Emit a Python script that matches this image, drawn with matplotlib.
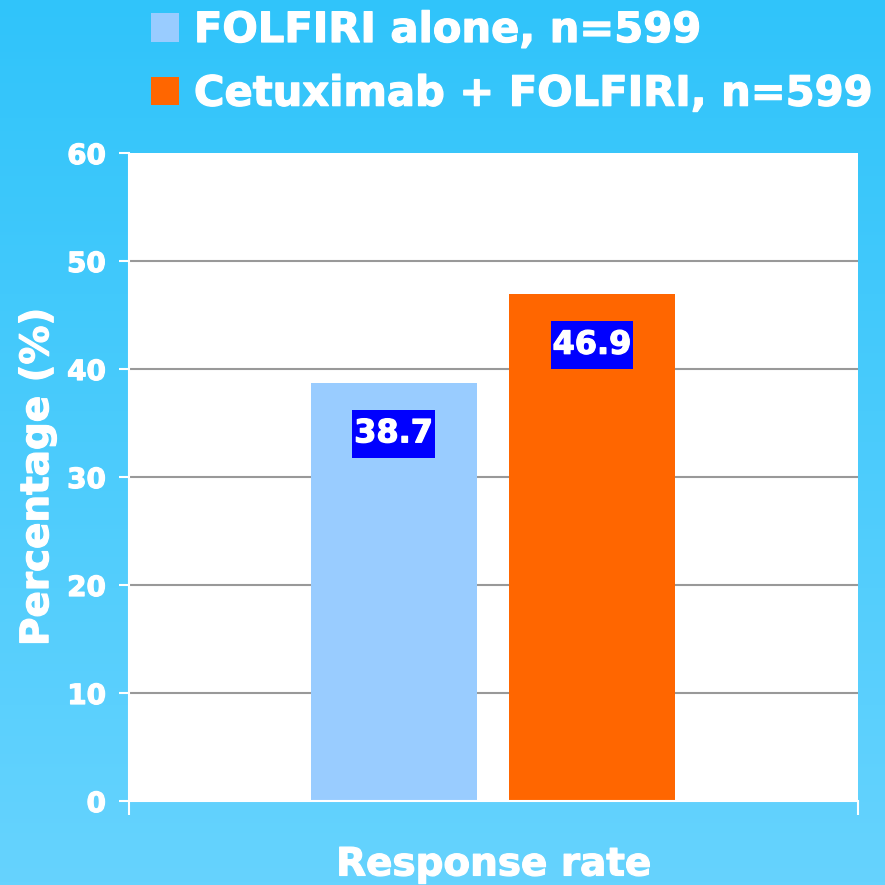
import numpy as np
import matplotlib
matplotlib.use("Agg")
import matplotlib.pyplot as plt
import matplotlib.patheffects as pe
from matplotlib.path import Path

categories = ["Response rate"]
series = ["FOLFIRI alone, n=599", "Cetuximab + FOLFIRI, n=599"]
values = [38.7, 46.9]
colors = ["#99CCFF", "#FF6600"]
yticks = [0, 10, 20, 30, 40, 50, 60]

plt.rcParams['font.family'] = ['DejaVu Sans']
plt.rcParams['font.weight'] = 'bold'

# fatten the white text a little, the original font is heavier
thick = [pe.withStroke(linewidth=0.9, foreground='white')]


def tallbox(x0, y0, width, height, mutation_size):
    # label box: little side padding, more top/bottom
    px = 0.06 * mutation_size
    py = 0.27 * mutation_size
    x0, y0 = x0 - px, y0 - py
    x1, y1 = x0 + width + 2 * px, y0 + height + 2 * py
    return Path([(x0, y0), (x1, y0), (x1, y1), (x0, y1), (x0, y0)], closed=True)


fig = plt.figure(figsize=(8.85, 8.85), dpi=100)

# sky blue gradient behind everything
bg = fig.add_axes([0, 0, 1, 1], zorder=-1)
top = np.array([0x30, 0xC4, 0xFA]) / 255
bot = np.array([0x66, 0xD3, 0xFE]) / 255
t = np.linspace(0, 1, 256)[:, None]
grad = top[None, :] * (1 - t) + bot[None, :] * t
bg.imshow(grad[:, None, :], aspect='auto', extent=[0, 1, 0, 1])
bg.axis('off')

ax = fig.add_axes([129/885, 1 - 801/885, 729/885, 648/885])
ax.set_facecolor('white')

width = 0.228
offsets = [-0.137, 0.135]
handles = []
for i, (name, v) in enumerate(zip(series, values)):
    b = ax.bar(offsets[i], v, width=width, color=colors[i], edgecolor='none', label=name, zorder=2)
    handles.append(b)
    ax.text(offsets[i], v - 4.7, f"{v}", ha='center', va='center', color='white',
            fontsize=23, fontweight='bold', zorder=3, path_effects=thick,
            bbox=dict(boxstyle=tallbox, fc='#0000FF', ec='none'))

ax.set_xlim(-0.5, 0.5)
ax.set_ylim(0, 60)
ax.set_yticks(yticks)
ax.set_yticklabels([str(y) for y in yticks])
ax.set_xticks([0])
ax.set_xticklabels(categories)
ax.set_xticks([-0.5, 0.5], minor=True)

ax.set_axisbelow(True)
ax.yaxis.grid(True, color='#999999', lw=1.5)
ax.yaxis.get_gridlines()[-1].set_visible(False)
ax.yaxis.get_gridlines()[0].set_visible(False)

for s in ['top', 'right']:
    ax.spines[s].set_visible(False)
for s in ['left', 'bottom']:
    ax.spines[s].set_color('white')
    ax.spines[s].set_linewidth(1.5)

ax.tick_params(axis='y', colors='white', length=7.2, width=1.5, pad=9.4, labelsize=20)
ax.tick_params(axis='x', which='major', length=0, pad=32, labelsize=28, labelcolor='white')
ax.tick_params(axis='x', which='minor', length=10, width=1.5, color='white')
for lab in ax.get_yticklabels() + ax.get_xticklabels():
    lab.set_fontweight('bold')
    lab.set_path_effects(thick)

ax.set_ylabel("Percentage (%)", fontsize=28, fontweight='bold', color='white', path_effects=thick)
ax.yaxis.set_label_coords(-0.10, 0.5)

leg = fig.legend(handles=handles, labels=series, loc='upper left',
                 bbox_to_anchor=(151/885, 1 - 9/885), frameon=False,
                 labelcolor='white', prop={'weight': 'bold', 'size': 30},
                 handlelength=0.68, handleheight=0.68, handletextpad=0.35,
                 labelspacing=0.52, borderpad=0, borderaxespad=0)
for txt in leg.get_texts():
    txt.set_path_effects(thick)

fig.savefig("out.png", dpi=100)
